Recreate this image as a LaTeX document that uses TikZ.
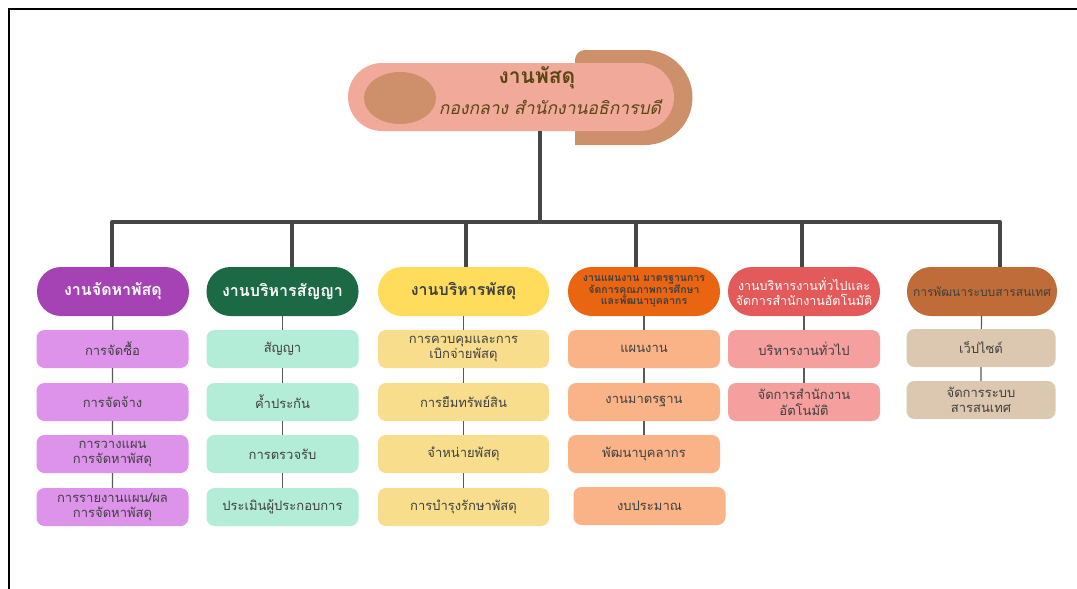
\documentclass[tikz,border=0pt]{standalone}
\usepackage{fontspec}
\usetikzlibrary{shapes.geometric}
\newfontfamily\thaifont[Script=Thai]{Loma}
\definecolor{pillpink}{HTML}{F1A999}
\definecolor{pilltan}{HTML}{CD906A}
\definecolor{titlebrown}{HTML}{5A4714}
\definecolor{purh}{HTML}{A543B5}
\definecolor{purs}{HTML}{DE93EB}
\definecolor{grnh}{HTML}{1C6945}
\definecolor{grns}{HTML}{B3EDD8}
\definecolor{yelh}{HTML}{FFDC5B}
\definecolor{yels}{HTML}{F7DD8C}
\definecolor{orah}{HTML}{EA6511}
\definecolor{oras}{HTML}{F9B387}
\definecolor{redh}{HTML}{E45959}
\definecolor{reds}{HTML}{F59F9F}
\definecolor{brnh}{HTML}{BF6C38}
\definecolor{brns}{HTML}{DCC7B0}
\definecolor{subtext}{HTML}{404040}
\definecolor{trunkgray}{HTML}{464646}
\definecolor{linkgray}{HTML}{5A5A5A}
\begin{document}
\begin{tikzpicture}[x=1pt,y=-1pt,
  every node/.style={font=\thaifont},
  head/.style={rounded corners=24pt, minimum width=152pt, minimum height=49pt,
    align=center, inner sep=1pt, font=\thaifont\bfseries\fontsize{16}{18}\selectfont},
  sub/.style={rounded corners=8pt, minimum width=152pt, minimum height=38pt,
    align=center, inner sep=1pt, text=subtext, font=\thaifont\fontsize{13}{15.5}\selectfont},
  trunk/.style={line width=4pt, draw=trunkgray},
  link/.style={line width=1.2pt, draw=linkgray}]

  \useasboundingbox (0,0) rectangle (1077,589);
  \draw[line width=2pt] (1077,9) -- (9,9) -- (9,589);

  \fill[pilltan] (575,145) [rounded corners=10pt] -- (575,50) [sharp corners] -- (645,50)
    arc[start angle=-90, end angle=90, radius=47.5] -- cycle;
  \node[fill=pillpink, rounded corners=34pt, minimum width=326pt, minimum height=68pt] (top) at (511,97) {};
  \node[fill=pilltan, ellipse, minimum width=72pt, minimum height=52pt] (dot) at (400,98) {};
  \node[text=titlebrown, font=\thaifont\bfseries\fontsize{21}{23}\selectfont] (title) at (537,78) {งานพัสดุ};
  \node[text=titlebrown, font=\thaifont\itshape\fontsize{17.5}{19}\selectfont] (unit) at (550,107) {กองกลาง สำนักงานอธิการบดี};

  \node[head, fill=purh, text=white] (h1) at (113,291.5) {งานจัดหาพัสดุ};
  \node[head, fill=grnh, text=white] (h2) at (282.5,291.5) {งานบริหารสัญญา};
  \node[head, fill=yelh, text=subtext, minimum width=171pt] (h3) at (463.5,291.5) {งานบริหารพัสดุ};
  \node[head, fill=orah, text=subtext, font=\thaifont\bfseries\fontsize{10.5}{11.5}\selectfont] (h4) at (644,291.5)
    {งานแผนงาน มาตรฐานการ\\จัดการคุณภาพการศึกษา\\และพัฒนาบุคลากร};
  \node[head, fill=redh, text=white, font=\thaifont\fontsize{12.5}{14.5}\selectfont] (h5) at (804,291.5)
    {งานบริหารงานทั่วไปและ\\จัดการสำนักงานอัตโนมัติ};
  \node[head, fill=brnh, text=subtext, minimum width=150pt, font=\thaifont\fontsize{12}{14}\selectfont] (h6) at (982,291.5)
    {การพัฒนาระบบสารสนเทศ};

  \node[sub, fill=purs] (s11) at (112.5,349) {การจัดซื้อ};
  \node[sub, fill=purs] (s12) at (112.5,402) {การจัดจ้าง};
  \node[sub, fill=purs] (s13) at (112.5,454) {การวางแผน\\การจัดหาพัสดุ};
  \node[sub, fill=purs] (s14) at (112.5,507) {การรายงานแผน/ผล\\การจัดหาพัสดุ};

  \node[sub, fill=grns] (s21) at (282.5,349) {สัญญา};
  \node[sub, fill=grns] (s22) at (282.5,402) {ค้ำประกัน};
  \node[sub, fill=grns] (s23) at (282.5,454) {การตรวจรับ};
  \node[sub, fill=grns] (s24) at (282.5,507) {ประเมินผู้ประกอบการ};

  \node[sub, fill=yels, minimum width=171pt] (s31) at (463.5,349) {การควบคุมและการ\\เบิกจ่ายพัสดุ};
  \node[sub, fill=yels, minimum width=171pt] (s32) at (463.5,402) {การยืมทรัพย์สิน};
  \node[sub, fill=yels, minimum width=171pt] (s33) at (463.5,454) {จำหน่ายพัสดุ};
  \node[sub, fill=yels, minimum width=171pt] (s34) at (463.5,507) {การบำรุงรักษาพัสดุ};

  \node[sub, fill=oras] (s41) at (644,349) {แผนงาน};
  \node[sub, fill=oras] (s42) at (644,402) {งานมาตรฐาน};
  \node[sub, fill=oras] (s43) at (644,454) {พัฒนาบุคลากร};
  \node[sub, fill=oras] (s44) at (649.5,506) {งบประมาณ};

  \node[sub, fill=reds] (s51) at (804,349) {บริหารงานทั่วไป};
  \node[sub, fill=reds] (s52) at (804,402) {จัดการสำนักงาน\\อัตโนมัติ};

  \node[sub, fill=brns, minimum width=149pt] (s61) at (981,348) {เว็ปไซต์};
  \node[sub, fill=brns, minimum width=149pt] (s62) at (981,400) {จัดการระบบ\\สารสนเทศ};

  \coordinate (d1) at (112,222);
  \coordinate (d2) at (292,222);
  \coordinate (d3) at (466,222);
  \coordinate (d4) at (636,222);
  \coordinate (d5) at (802,222);
  \coordinate (d6) at (1000,222);
  \coordinate (mid) at (540,222);

  \draw[trunk] (mid |- top.south) -- (mid);
  \draw[trunk, line cap=round] (d1) -- (d6);
  \draw[trunk] (d1) -- (d1 |- h1.north);
  \draw[trunk] (d2) -- (d2 |- h2.north);
  \draw[trunk] (d3) -- (d3 |- h3.north);
  \draw[trunk] (d4) -- (d4 |- h4.north);
  \draw[trunk] (d5) -- (d5 |- h5.north);
  \draw[trunk] (d6) -- (d6 |- h6.north);

  \draw[link] (h1) -- (s11) (s11) -- (s12) (s12) -- (s13) (s13) -- (s14);
  \draw[link] (h2) -- (s21) (s21) -- (s22) (s22) -- (s23) (s23) -- (s24);
  \draw[link] (h3) -- (s31) (s31) -- (s32) (s32) -- (s33) (s33) -- (s34);
  \draw[link] (h4) -- (s41) (s41) -- (s42) (s42) -- (s43);
  \draw[link] (h5) -- (s51) (s51) -- (s52);
  \draw[link] (h6) -- (s61) (s61) -- (s62);

\end{tikzpicture}
\end{document}
